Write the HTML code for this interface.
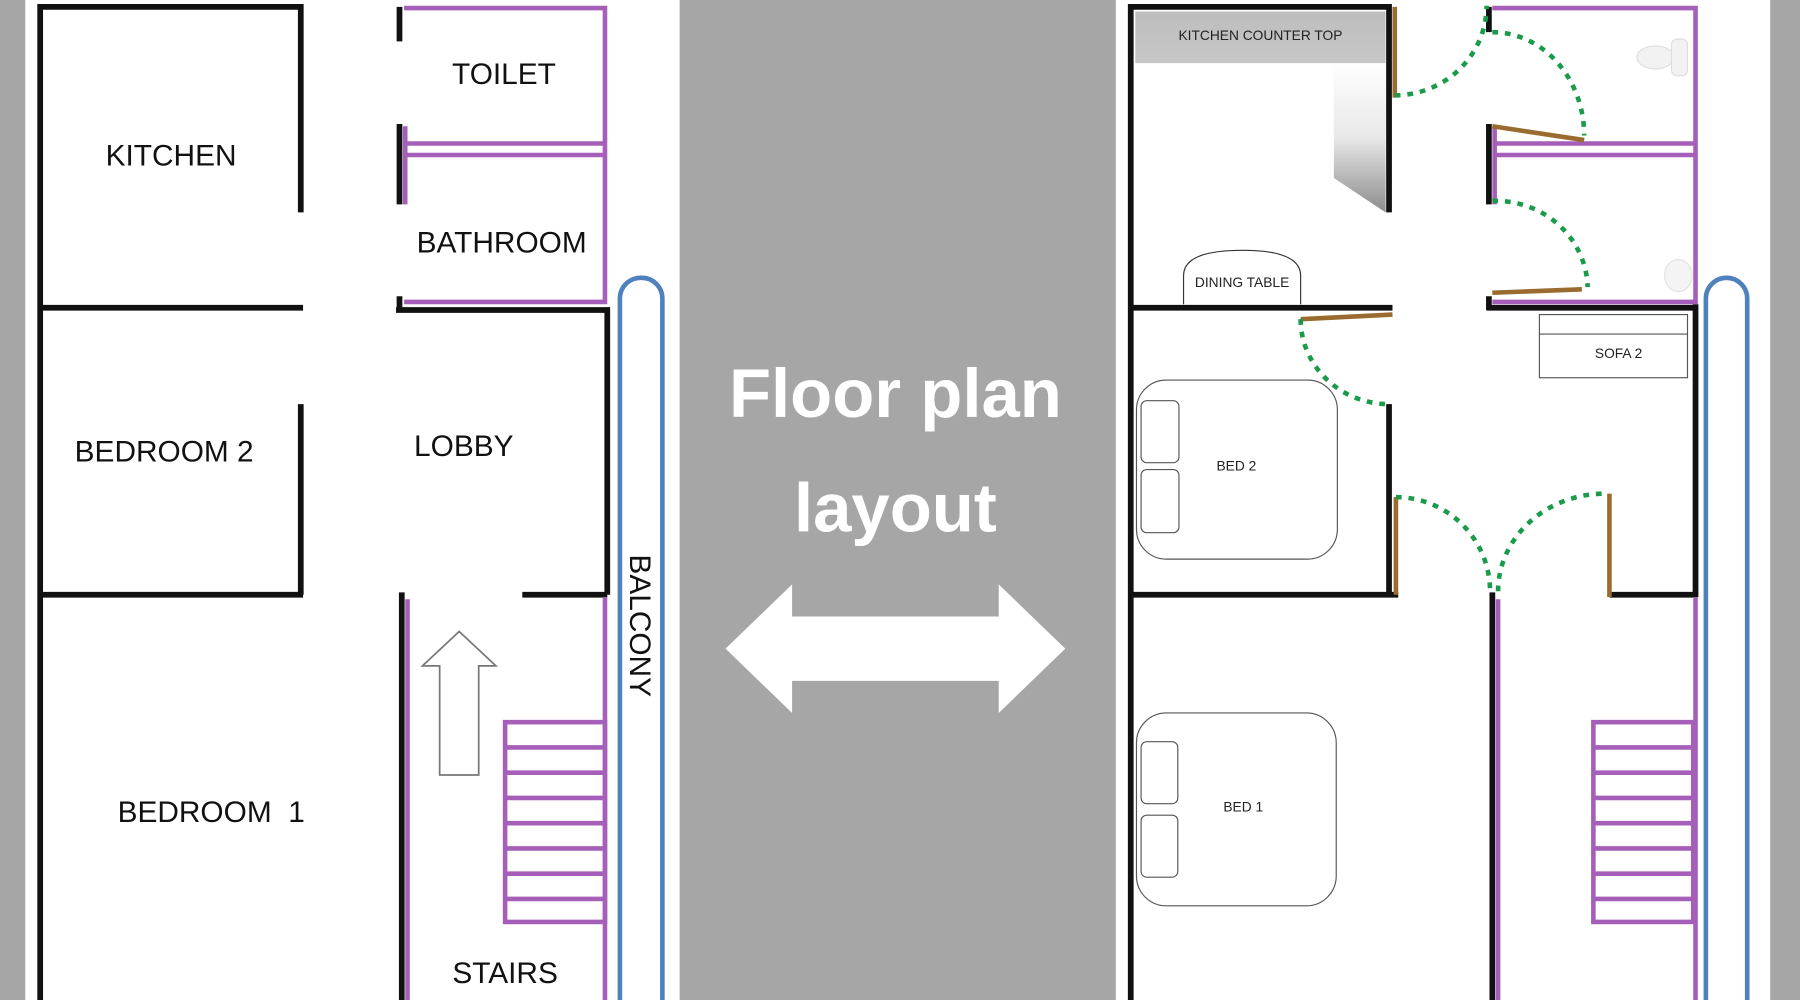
<!DOCTYPE html>
<html><head><meta charset="utf-8"><style>html,body{margin:0;padding:0;background:#a6a6a6;}svg{display:block}</style></head>
<body>
<svg width="1800" height="1000" viewBox="0 0 1568 871" preserveAspectRatio="none" xmlns="http://www.w3.org/2000/svg" font-family="Liberation Sans, sans-serif">
<defs>
<linearGradient id="gt" x1="0" y1="0" x2="0" y2="1"><stop offset="0" stop-color="#bdbdbd"/><stop offset="1" stop-color="#e2e2e2"/></linearGradient>
<linearGradient id="gl" x1="0" y1="0" x2="0" y2="1"><stop offset="0" stop-color="#fff"/><stop offset="0.5" stop-color="#e8e8e8"/><stop offset="1" stop-color="#8c8c8c"/></linearGradient>
</defs>
<rect width="1568" height="871" fill="#a6a6a6"/>
<rect x="22" y="0" width="570" height="871" fill="#fff"/>
<rect x="972" y="0" width="570" height="871" fill="#fff"/>

<!-- LEFT PLAN -->
<g stroke="#111" stroke-width="5" fill="none">
<path d="M35 871 V6 H262 V185"/>
<path d="M35 268 H264"/>
<path d="M262 352 V518"/>
<path d="M35 518 H264"/>
<path d="M348 6 V36 M348 108 V178 M348 258 V270 M345 270 H529 V518 M455 518 H529 M350 516 V871"/>
</g>
<g stroke="#a65fb8" stroke-width="4" fill="none">
<path d="M352 7 H527 V265 M352 263 H527"/>
<path d="M353 125 H527 M353 135 H527 M353 110 V178"/>
<path d="M355 522 V871 M527 520 V871"/>
<rect x="440" y="629" width="87" height="174"/>
<path d="M440 651 H527 M440 673 H527 M440 695 H527 M440 717 H527 M440 739 H527 M440 761 H527 M440 783 H527"/>
</g>
<path d="M400 550 L432 580 H417 V675 H383 V580 H368 Z" fill="#fff" stroke="#777" stroke-width="1.5"/>
<rect x="540" y="242" width="37" height="660" rx="18" fill="none" stroke="#4f81bd" stroke-width="4"/>
<g font-size="26" fill="#111" text-anchor="middle">
<text x="149" y="144">KITCHEN</text>
<text x="439" y="73">TOILET</text>
<text x="437" y="220">BATHROOM</text>
<text x="143" y="402">BEDROOM 2</text>
<text x="404" y="397">LOBBY</text>
<text x="184" y="716">BEDROOM&#160; 1</text>
<text x="440" y="856">STAIRS</text>
<text x="0" y="0" transform="translate(549,545) rotate(90)">BALCONY</text>
</g>

<!-- CENTER -->
<g fill="#fff" font-weight="bold" font-size="60" text-anchor="middle">
<text x="780" y="363">Floor plan</text>
<text x="780" y="463">layout</text>
</g>
<path d="M632 565 L690 509 V537 H870 V509 L928 565 L870 621 V593 H690 V621 Z" fill="#fff"/>

<!-- RIGHT PLAN -->
<path d="M989 10 H1207 V185 L1162 155 V55 H989 Z" fill="url(#gt)"/>
<path d="M1162 55 H1207 V185 L1162 155 Z" fill="url(#gl)"/>
<g stroke="#111" stroke-width="5" fill="none">
<path d="M985 871 V6 H1210 V185"/>
<path d="M985 268 H1213"/>
<path d="M1210 352 V518 M985 518 H1218"/>
<path d="M1297 6 V28 M1297 108 V178 M1297 258 V270 M1295 268 H1478 M1477 265 V520 M1402 518 H1478 M1300 516 V871"/>
</g>
<g stroke="#a65fb8" stroke-width="4" fill="none">
<path d="M1300 7 H1477 V265 M1300 263 H1477"/>
<path d="M1302 125 H1477 M1302 135 H1477 M1302 110 V178"/>
<path d="M1305 522 V871 M1477 520 V871"/>
<rect x="1388" y="629" width="87" height="174"/>
<path d="M1388 651 H1475 M1388 673 H1475 M1388 695 H1475 M1388 717 H1475 M1388 739 H1475 M1388 761 H1475 M1388 783 H1475"/>
</g>
<g stroke="#9a6b2e" stroke-width="4" fill="none">
<path d="M1215 6 V85 M1300 110 L1380 122 M1300 255 L1378 252 M1133 278 L1213 274 M1216 433 V518 M1402 430 V520"/>
</g>
<g stroke="#1a9a4a" stroke-width="4" stroke-dasharray="5 6" fill="none">
<path d="M1215 83 A80 78 0 0 0 1295 5"/>
<path d="M1300 28 A80 90 0 0 1 1380 118"/>
<path d="M1300 175 A80 77 0 0 1 1383 250"/>
<path d="M1133 278 A77 74 0 0 0 1210 352"/>
<path d="M1216 433 A82 82 0 0 1 1298 515"/>
<path d="M1305 515 A93 85 0 0 1 1398 430"/>
</g>
<ellipse cx="1442" cy="50" rx="16" ry="10" fill="#f2f2f2" stroke="#ddd"/>
<rect x="1456" y="34" width="14" height="32" rx="5" fill="#f2f2f2" stroke="#ddd"/>
<ellipse cx="1462" cy="240" rx="12" ry="14" fill="#f4f4f4" stroke="#e2e2e2"/>
<path d="M1031 265 V240 Q1031 218 1082 218 Q1133 218 1133 240 V265" fill="#fff" stroke="#333" stroke-width="1"/>
<g fill="none" stroke="#555" stroke-width="1">
<rect x="1341" y="274" width="129" height="55"/>
<path d="M1341 291 H1470"/>
<rect x="990" y="331" width="175" height="156" rx="26"/>
<rect x="994" y="349" width="33" height="54" rx="5"/>
<rect x="994" y="409" width="33" height="55" rx="5"/>
<rect x="990" y="621" width="174" height="168" rx="26"/>
<rect x="994" y="646" width="32" height="54" rx="5"/>
<rect x="994" y="710" width="32" height="54" rx="5"/>
</g>
<g font-size="12" fill="#222" text-anchor="middle">
<text x="1098" y="35">KITCHEN COUNTER TOP</text>
<text x="1082" y="250">DINING TABLE</text>
<text x="1410" y="312">SOFA 2</text>
<text x="1077" y="410">BED 2</text>
<text x="1083" y="707">BED 1</text>
</g>
<rect x="1486" y="242" width="36" height="660" rx="18" fill="none" stroke="#4f81bd" stroke-width="4"/>
</svg>
</body></html>
